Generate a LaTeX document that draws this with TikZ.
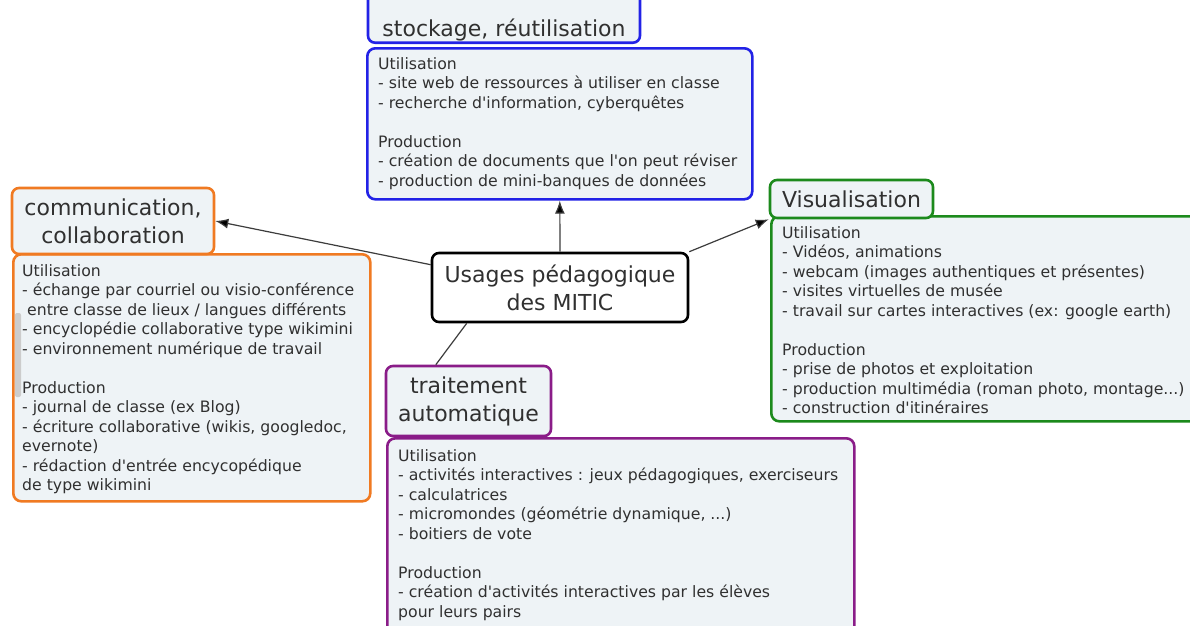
\documentclass[tikz,border=0pt]{standalone}
\usepackage{fontspec}
\setmainfont{DejaVu Sans}[Ligatures=TeXOff]
\usetikzlibrary{arrows.meta,positioning}
\definecolor{boxfill}{HTML}{EEF3F6}
\definecolor{txt}{HTML}{303030}
\definecolor{linkgray}{HTML}{3C3C3C}
\definecolor{orangeline}{HTML}{F07A22}
\definecolor{blueline}{HTML}{2222E6}
\definecolor{greenline}{HTML}{1C8A1C}
\definecolor{purpleline}{HTML}{8A1C88}
\newcommand{\bodyfont}{\fontsize{15.7}{19.5}\selectfont}
\newcommand{\titlefont}{\fontsize{22}{28}\selectfont}
\tikzset{
  titlebox/.style={draw=#1, fill=boxfill, line width=2.6pt, rounded corners=7pt,
    align=center, font=\titlefont, text=txt, inner sep=0pt},
  contentbox/.style={draw=#1, fill=boxfill, line width=2.6pt, rounded corners=8pt,
    anchor=north west, inner sep=0pt},
  bodytext/.style={inner sep=0pt, align=left, font=\bodyfont, text=txt},
  link/.style={draw=linkgray, line width=1.2pt, -{Latex[length=13pt,width=10pt,fill=black]}}
}

\begin{document}
\begin{tikzpicture}[x=1pt, y=-1pt]
	\useasboundingbox (0,0) rectangle (1190,625);
	\fill[white] (0,0) rectangle (1190,625);

	% content boxes
	\node[contentbox=blueline, minimum width=385pt, minimum height=151pt] (stockB) at (366,47) {};
	\node[contentbox=orangeline, minimum width=357pt, minimum height=247pt] (commB) at (12,253) {};
	\node[contentbox=greenline, minimum width=440pt, minimum height=205pt] (visB) at (770,215) {};
	\node[contentbox=purpleline, minimum width=467pt, minimum height=220pt] (traitB) at (386,437) {};
	\fill[gray!40, rounded corners=2pt] (15,313) rectangle (21,397);

	% titles
	\node[titlebox=blueline, minimum width=272pt, minimum height=130pt, anchor=south] (stockT) at (504,44) {};
	\node[font=\titlefont, text=txt] (stockL) at (504,30) {stockage, réutilisation};
	\node[titlebox=orangeline, minimum width=202pt, minimum height=66pt] (commT) at (113,221) {communication,\\collaboration};
	\node[titlebox=greenline, minimum width=163pt, minimum height=38pt] (visT) at (851.5,199) {Visualisation};
	\node[titlebox=purpleline, minimum width=165pt, minimum height=70pt] (traitT) at (468.5,401) {traitement\\automatique};
	\node[titlebox=black, fill=white, minimum width=256pt, minimum height=69pt] (cen) at (560,287.5) {Usages pédagogique\\des MITIC};

	% texts
	\node[bodytext, below right=10pt and 12pt of stockB.north west] (stockX) {Utilisation\\
		- site web de ressources à utiliser en classe\\
		- recherche d'information, cyberquêtes\\[19.5pt]
		Production\\
		- création de documents que l'on peut réviser\\
		- production de mini-banques de données};
	\node[bodytext, below right=11pt and 10pt of commB.north west] (commX) {Utilisation\\
		- échange par courriel ou visio-conférence\\
		\hspace*{5pt}entre classe de lieux / langues différents\\
		- encyclopédie collaborative type wikimini\\
		- environnement numérique de travail\\[19.5pt]
		Production\\
		- journal de classe (ex Blog)\\
		- écriture collaborative (wikis, googledoc,\\
		evernote)\\
		- rédaction d'entrée encycopédique\\
		de type wikimini};
	\node[bodytext, below right=11pt and 12pt of visB.north west] (visX) {Utilisation\\
		- Vidéos, animations\\
		- webcam (images authentiques et présentes)\\
		- visites virtuelles de musée\\
		- travail sur cartes interactives (ex: google earth)\\[19.5pt]
		Production\\
		- prise de photos et exploitation\\
		- production multimédia (roman photo, montage...)\\
		- construction d'itinéraires};
	\node[bodytext, below right=12pt and 12pt of traitB.north west] (traitX) {Utilisation\\
		- activités interactives : jeux pédagogiques, exerciseurs\\
		- calculatrices\\
		- micromondes (géométrie dynamique, ...)\\
		- boitiers de vote\\[19.5pt]
		Production\\
		- création d'activités interactives par les élèves\\
		pour leurs pairs};

	% connectors
	\draw[link] (cen.170) -- (commT.east);
	\draw[link] (cen.north) -- (stockB.south);
	\draw[link] (cen.north east) -- (visT.south west);
	\draw[link, -] (cen.201) -- (traitT.132);
\end{tikzpicture}
\end{document}
